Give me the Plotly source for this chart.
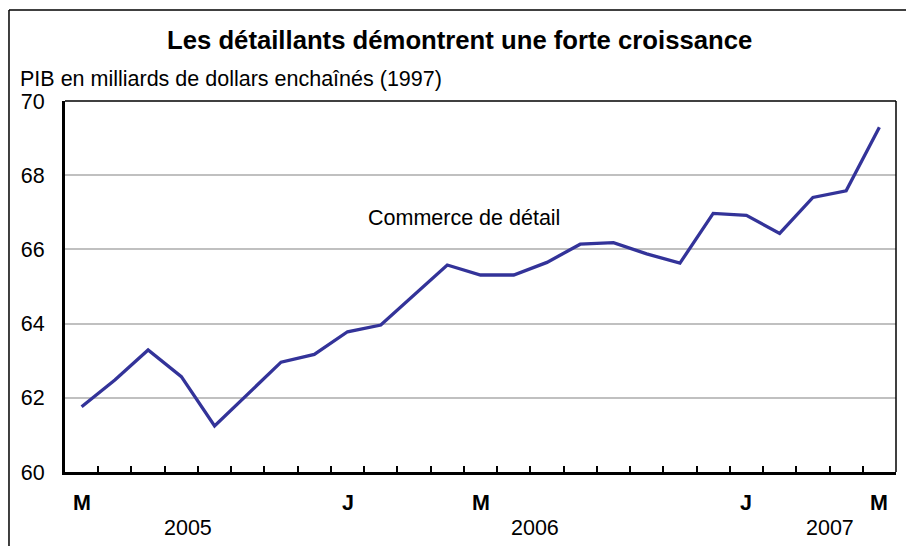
import plotly.graph_objects as go

# Data: monthly retail GDP, March 2005 - March 2007
values = [61.76, 62.48, 63.29, 62.57, 61.24, 62.09, 62.96, 63.17, 63.78, 63.96,
          64.77, 65.58, 65.31, 65.31, 65.65, 66.14, 66.18, 65.88, 65.63, 66.97,
          66.92, 66.43, 67.40, 67.58, 69.29]
series_name = "Commerce de détail"
month_label_pos = [0, 8, 12, 20, 24]
month_labels = ["M", "J", "M", "J", "M"]
year_label_pos = [3.2, 13.65, 22.5]
year_labels = ["2005", "2006", "2007"]
y_ticks = [60, 62, 64, 66, 68, 70]

title = "Les détaillants démontrent une forte croissance"
subtitle = "PIB en milliards de dollars enchaînés (1997)"

n = len(values)
xs = list(range(n))
FONT = "Liberation Sans, Arial, sans-serif"
FS = 21.5

fig = go.Figure()
fig.add_trace(go.Scatter(x=xs, y=values, mode="lines", name=series_name,
                         line=dict(color="#333399", width=3.3), showlegend=False,
                         hoverinfo="y"))

annotations = []
for p, t in zip(month_label_pos, month_labels):
    annotations.append(dict(x=p, y=-0.0836, xref="x", yref="paper", text="<b>%s</b>" % t,
                            showarrow=False, font=dict(family=FONT, size=FS, color="black"),
                            xanchor="center", yanchor="middle"))
for p, t in zip(year_label_pos, year_labels):
    annotations.append(dict(x=p, y=-0.150, xref="x", yref="paper", text=t,
                            showarrow=False, font=dict(family=FONT, size=FS, color="black"),
                            xanchor="center", yanchor="middle"))
annotations.append(dict(x=11.5, y=66.85, xref="x", yref="y", text=series_name, showarrow=False,
                        font=dict(family=FONT, size=FS, color="black"),
                        xanchor="center", yanchor="middle"))
annotations.append(dict(x=0.475, y=1.164, xref="paper", yref="paper", text="<b>%s</b>" % title,
                        showarrow=False, font=dict(family=FONT, size=25.7, color="black"),
                        xanchor="center", yanchor="middle"))
annotations.append(dict(x=-0.0566, y=1.059, xref="paper", yref="paper", text=subtitle,
                        showarrow=False, font=dict(family=FONT, size=FS, color="black"),
                        xanchor="left", yanchor="middle"))

shapes = [
    # outer frame (left and top)
    dict(type="line", xref="paper", yref="paper", x0=-0.0674, x1=-0.0674, y0=-0.3, y1=1.2453,
         line=dict(color="black", width=1.5)),
    dict(type="line", xref="paper", yref="paper", x0=-0.0674, x1=1.2, y0=1.2453, y1=1.2453,
         line=dict(color="black", width=1.5)),
    # plot area top and right border (thin)
    dict(type="line", xref="paper", yref="paper", x0=0, x1=1, y0=1, y1=1,
         line=dict(color="black", width=1.5)),
    dict(type="line", xref="paper", yref="paper", x0=1, x1=1, y0=0, y1=1,
         line=dict(color="black", width=1.5)),
]

fig.update_layout(
    width=906, height=546,
    margin=dict(l=65, r=10, t=101, b=74),
    paper_bgcolor="white", plot_bgcolor="white",
    font=dict(family=FONT, size=FS, color="black"),
    annotations=annotations, shapes=shapes,
    xaxis=dict(range=[-0.5, n - 0.5], tickvals=[i + 0.5 for i in range(n - 1)],
               ticks="inside", ticklen=6, tickwidth=1.5, tickcolor="black",
               showticklabels=False, showgrid=False, zeroline=False,
               showline=True, linecolor="black", linewidth=3, fixedrange=True),
    yaxis=dict(range=[60, 70], tickvals=y_ticks, ticks="", showgrid=True,
               gridcolor="#c0c0c0", gridwidth=1.5, zeroline=False,
               showline=True, linecolor="black", linewidth=3,
               tickfont=dict(family=FONT, size=FS, color="black"),
               ticklabelstandoff=13, fixedrange=True),
)

fig.write_html("out.html", config={"displayModeBar": False},
               post_script="document.body.style.margin='0';document.body.style.overflow='hidden';")
